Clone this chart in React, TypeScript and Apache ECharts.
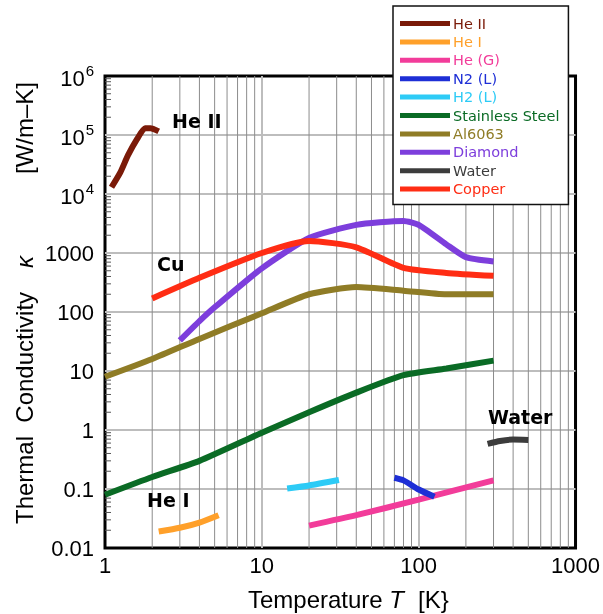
import React, { useEffect, useRef } from "react";
import * as echarts from "echarts";

// Temperature (K) / thermal conductivity (W/m-K) pairs
const heIIT = [1.1, 1.25, 1.4, 1.6, 1.8, 1.95, 2.2];
const heIIK = [13000, 23000, 45000, 85000, 130000, 130000, 115000];
const heIT = [2.2, 3, 4, 5.3];
const heIK = [0.019, 0.022, 0.027, 0.036];
const heGT = [20, 40, 100, 300];
const heGK = [0.024, 0.036, 0.066, 0.14];
const n2T = [70, 80, 100, 126];
const n2K = [0.155, 0.14, 0.098, 0.074];
const h2T = [14.5, 20, 31];
const h2K = [0.102, 0.115, 0.142];
const ssT = [1, 2, 4, 10, 20, 40, 80, 150, 300];
const ssK = [0.08, 0.16, 0.3, 0.9, 2, 4.3, 8.5, 11, 15];
const alT = [1, 2, 4, 10, 20, 40, 80, 150, 300];
const alK = [8, 16, 35, 95, 200, 265, 230, 200, 200];
const diaT = [3, 4, 5, 10, 20, 40, 80, 100, 150, 200, 300];
const diaK = [33, 70, 120, 550, 1800, 3000, 3500, 3000, 1400, 850, 720];
const waterT = [275, 330, 400, 500];
const waterK = [0.58, 0.65, 0.69, 0.68];
const cuT = [2, 4, 10, 20, 40, 80, 150, 300];
const cuK = [170, 380, 1000, 1600, 1250, 560, 460, 410];

const seriesNames = ["He II", "He I", "He (G)", "N2 (L)", "H2 (L)", "Stainless Steel", "Al6063", "Diamond", "Water", "Copper"];
const seriesColors = ["#7a1a08", "#ffa02a", "#f23c9a", "#1e2fd6", "#2dcbf6", "#0a6b25", "#8f7c26", "#7d3edc", "#3c3c3c", "#ff2d14"];
const seriesT = [heIIT, heIT, heGT, n2T, h2T, ssT, alT, diaT, waterT, cuT];
const seriesK = [heIIK, heIK, heGK, n2K, h2K, ssK, alK, diaK, waterK, cuK];

const xTickLabels = ["1", "10", "100", "1000"];
const yTickLabels = ["0.01", "0.1", "1", "10", "100", "1000", "{b|10}{s|4}", "{b|10}{s|5}", "{b|10}{s|6}"];

const minorX = [2, 3, 4, 5, 6, 7, 8, 9, 20, 30, 40, 50, 60, 70, 80, 90, 200, 300, 400, 500, 600, 700, 800, 900];
const minorY: number[] = [];
for (let e = -2; e < 6; e++) for (let m = 2; m <= 9; m++) minorY.push(m * Math.pow(10, e));

const annotations = [
  { text: "He II", x: 172, y: 122 },
  { text: "Cu", x: 157, y: 265 },
  { text: "He I", x: 147, y: 501 },
  { text: "Water", x: 488, y: 418 },
];

const SANS = "Liberation Sans, Arial, Helvetica, sans-serif";
const DEJA = "DejaVu Sans, sans-serif";

export default function App() {
  const ref = useRef<HTMLDivElement>(null);
  useEffect(() => {
    document.body.style.margin = "0";
    const chart = echarts.init(ref.current!, null, { renderer: "svg" });
    const lineSeries = seriesNames.map((name, i) => ({
      name,
      type: "line",
      data: seriesT[i].map((t, j) => [t, seriesK[i][j]]),
      showSymbol: false,
      symbol: "none",
      smooth: 0.2,
      color: seriesColors[i],
      lineStyle: { width: 6, color: seriesColors[i] },
      z: 3,
    }));
    chart.setOption({
      animation: false,
      grid: { left: 105, right: 27, top: 76, bottom: 66, show: true, borderColor: "#000", borderWidth: 3, backgroundColor: "transparent" },
      xAxis: {
        type: "log",
        logBase: 10,
        min: 1,
        max: 1000,
        axisLine: { show: false },
        axisTick: { show: false },
        axisLabel: {
          fontSize: 22,
          color: "#000",
          fontFamily: SANS,
          margin: 6,
          formatter: (v: number) => xTickLabels[Math.round(Math.log10(v))] ?? "",
        },
        splitLine: { show: true, showMinLine: false, showMaxLine: false, lineStyle: { color: "#bdbdbd", width: 2 } },
      },
      yAxis: {
        type: "log",
        logBase: 10,
        min: 0.01,
        max: 1e6,
        axisLine: { show: false },
        axisTick: { show: false },
        axisLabel: {
          margin: 11,
          color: "#000",
          fontFamily: SANS,
          fontSize: 22,
          formatter: (v: number) => yTickLabels[Math.round(Math.log10(v)) + 2] ?? "",
          rich: {
            b: { fontSize: 22, fontFamily: SANS, color: "#000", verticalAlign: "bottom" },
            s: { fontSize: 15, fontFamily: SANS, color: "#000", verticalAlign: "bottom", padding: [0, 0, 11, 1] },
          },
        },
        splitLine: { show: true, showMinLine: false, showMaxLine: false, lineStyle: { color: "#bdbdbd", width: 2 } },
      },
      legend: {
        orient: "vertical",
        left: 393,
        top: 6,
        padding: [10, 9, 8, 7],
        itemWidth: 50,
        itemHeight: 5,
        itemGap: 3.4,
        icon: "rect",
        backgroundColor: "#fff",
        borderColor: "#111",
        borderWidth: 1.5,
        z: 10,
        textStyle: { fontFamily: DEJA, fontSize: 14.5, lineHeight: 14, padding: [0, 0, 0, -2] },
        data: seriesNames.map((n, i) => ({ name: n, textStyle: { color: seriesColors[i] } })),
      },
      graphic: [
        ...annotations.map((a) => ({
          type: "text",
          left: a.x,
          top: a.y - 11,
          z: 5,
          style: { text: a.text, fontFamily: DEJA, fontWeight: "bold", fontSize: 19, fill: "#000" },
        })),
        {
          type: "text",
          x: 24,
          y: 408,
          rotation: Math.PI / 2,
          style: { text: "Thermal  Conductivity", fontFamily: SANS, fontSize: 24, fill: "#000", align: "center", verticalAlign: "middle" },
        },
        {
          type: "text",
          x: 24,
          y: 262,
          rotation: Math.PI / 2,
          style: { text: "κ", fontFamily: SANS, fontStyle: "italic", fontSize: 24, fill: "#000", align: "center", verticalAlign: "middle" },
        },
        {
          type: "text",
          x: 24,
          y: 128,
          rotation: Math.PI / 2,
          style: { text: "[W/m–K]", fontFamily: SANS, fontSize: 24, fill: "#000", align: "center", verticalAlign: "middle" },
        },
        {
          type: "text",
          x: 404,
          y: 599,
          style: {
            text: "{n|Temperature }{i|T}",
            align: "right",
            verticalAlign: "middle",
            rich: {
              n: { fontFamily: SANS, fontSize: 24, color: "#000" },
              i: { fontFamily: SANS, fontSize: 24, fontStyle: "italic", color: "#000" },
            },
          },
        },
        {
          type: "text",
          x: 418,
          y: 599,
          style: { text: "[K}", fontFamily: SANS, fontSize: 24, fill: "#000", align: "left", verticalAlign: "middle" },
        },
      ],
      series: [
        {
          type: "custom",
          silent: true,
          z: 1,
          data: minorX.map((v) => [v, 1]),
          encode: { x: 0, y: 1 },
          renderItem: (_p: any, api: any) => {
            const x = api.value(0);
            const a = api.coord([x, 0.01]);
            const b = api.coord([x, 1e6]);
            return { type: "line", shape: { x1: a[0], y1: a[1], x2: b[0], y2: b[1] }, style: { stroke: "#8c8c8c", lineWidth: 1 } };
          },
        },
        {
          type: "custom",
          silent: true,
          z: 1,
          data: minorY.map((v) => [1, v]),
          encode: { x: 0, y: 1 },
          renderItem: (_p: any, api: any) => {
            const p = api.coord([api.value(0), api.value(1)]);
            return { type: "line", shape: { x1: p[0], y1: p[1], x2: p[0] + 6, y2: p[1] }, style: { stroke: "#555", lineWidth: 1 } };
          },
        },
        ...lineSeries,
      ],
    });
    return () => chart.dispose();
  }, []);
  return <div ref={ref} style={{ position: "fixed", left: 0, top: 0, width: 603, height: 614 }} />;
}
